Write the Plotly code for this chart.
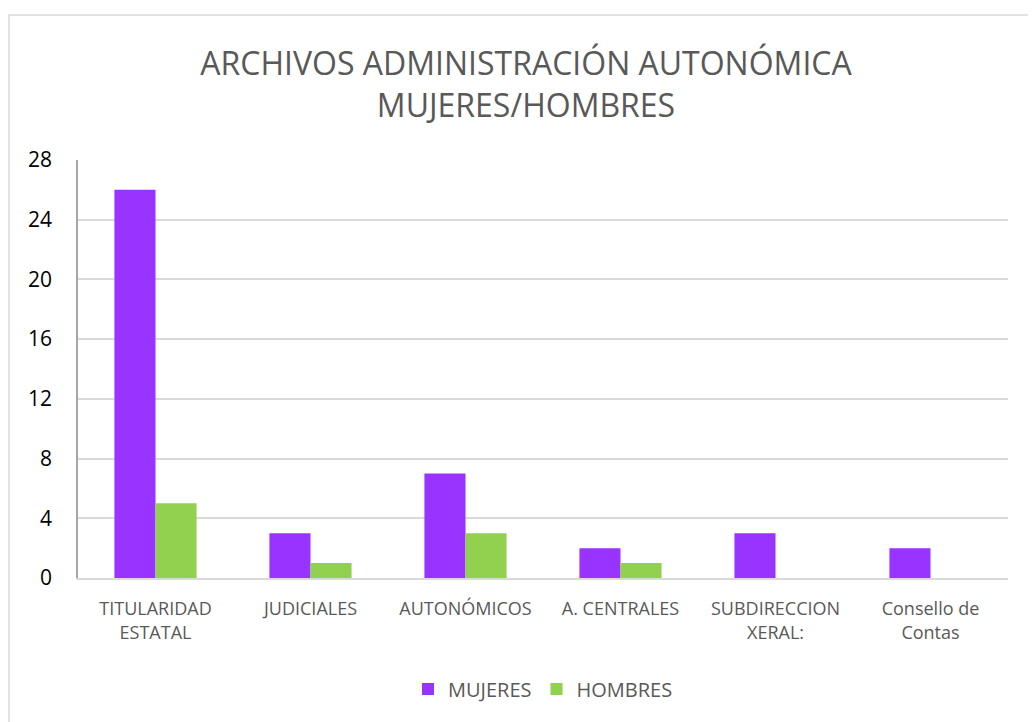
import plotly.graph_objects as go

categories = ["TITULARIDAD<br>ESTATAL", "JUDICIALES", "AUTONÓMICOS", "A. CENTRALES",
              "SUBDIRECCION<br>XERAL:", "Consello de<br>Contas"]
mujeres = [26, 3, 7, 2, 3, 2]
hombres = [5, 1, 3, 1, 0, 0]
y_ticks = [0, 4, 8, 12, 16, 20, 24, 28]

fig = go.Figure()
fig.add_trace(go.Bar(x=categories, y=mujeres, name="MUJERES", marker_color="#9933FF",
                     marker_line_width=0))
fig.add_trace(go.Bar(x=categories, y=hombres, name="HOMBRES", marker_color="#92D050",
                     marker_line_width=0))

# page body has an 8px margin, so margins are shifted by 8px
fig.update_layout(
    width=1036, height=722,
    margin=dict(l=70, r=36, t=152, b=152, autoexpand=False),
    paper_bgcolor="white", plot_bgcolor="white",
    barmode="group", bargap=0.47, bargroupgap=0,
    font=dict(family="Open Sans, sans-serif", color="#595959"),
    title=dict(text="ARCHIVOS ADMINISTRACIÓN AUTONÓMICA<br>MUJERES/HOMBRES",
               x=0.5, xanchor="center", y=0.907, yanchor="top",
               font=dict(size=32, color="#595959")),
    legend=dict(orientation="h", x=0.5, xanchor="center", y=-0.219, yanchor="top",
                font=dict(size=20, color="#595959"),
                itemwidth=30, traceorder="normal"),
    shapes=[dict(type="rect", xref="paper", yref="paper", x0=-0.0742, x1=1.0237, y0=-0.42, y1=1.347,
                 line=dict(color="#d9d9d9", width=1.5))],
)
fig.update_yaxes(range=[0, 28], tickvals=y_ticks, showgrid=True, gridcolor="#d9d9d9", gridwidth=1.5,
                 showline=True, linecolor="#a6a6a6", linewidth=1.5, automargin=False,
                 ticks="outside", ticklen=20, tickcolor="white",
                 tickfont=dict(size=21, color="black"), zeroline=False)
fig.update_xaxes(showline=True, linecolor="#d9d9d9", linewidth=1.5, automargin=False,
                 tickfont=dict(size=18, color="#595959"),
                 ticks="outside", ticklen=14, tickcolor="white")

fig.write_html("out.html")
